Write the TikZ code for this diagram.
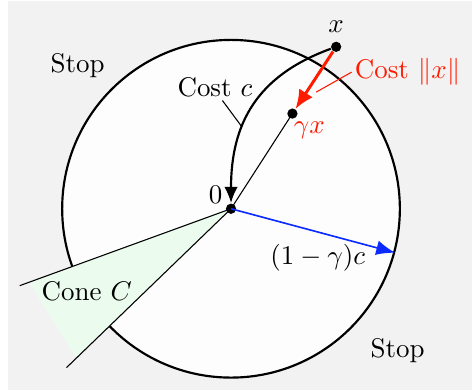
\documentclass[tikz,border=0pt]{standalone}
\usetikzlibrary{positioning,arrows.meta}
\definecolor{StopGray}{HTML}{F2F2F2}
\definecolor{BallWhite}{HTML}{FDFDFD}
\definecolor{ConeMint}{HTML}{EBFCEF}
\definecolor{CostRed}{HTML}{FF1A00}
\definecolor{RadiusBlue}{HTML}{0A2AFF}

\begin{document}
\begin{tikzpicture}[
  dot/.style={circle,fill=black,inner sep=0pt,minimum size=3.8pt},
  lbl/.style={inner sep=1pt},
  costarr/.style={-{Latex[length=6pt,width=5pt]},thick},
  redarr/.style={-{Latex[length=7pt,width=6pt]},line width=1.1pt,draw=CostRed},
  bluearr/.style={-{Latex[length=7pt,width=5.5pt]},semithick,draw=RadiusBlue},
  leader/.style={thin}
]
  \useasboundingbox (-3.01,-2.36) rectangle (3.14,2.72);
  \fill[StopGray] (-2.90,-2.36) rectangle (3.14,2.71);
  \node[circle,draw,thick,fill=BallWhite,minimum size=4.4cm,inner sep=0pt] (ball) at (0,0) {};
  % the cone
  \coordinate (o) at (0,0);
  \coordinate (coneA) at (200:2.93);
  \coordinate (coneB) at (224:2.98);
  \fill[ConeMint] (o) -- (200:2.8) -- (224:2.8) -- cycle;
  \draw[thin] (coneA) -- (o) -- (coneB);
  % points
  \node[dot] (zero) at (0,0) {};
  \node[dot] (x) at (1.37,2.11) {};
  \node[dot] (gx) at (0.80,1.24) {};
  \draw[thin] (zero.center) -- (gx.center);
  \draw[costarr] (x) to[out=200,in=90,looseness=1.1] (zero);
  \draw[redarr] (x) -- (gx);
  \draw[bluearr] (zero.center) -- (ball.-15);
  % labels
  \node[lbl,above=2pt of x] (xlabel) {$x$};
  \node[lbl,text=CostRed] (gxlabel) at (1.02,1.02) {$\gamma x$};
  \node[lbl,text=CostRed] (costx) at (2.30,1.78) {Cost $\|x\|$};
  \coordinate (redtip) at (1.11,1.52);
  \draw[leader,CostRed] (costx.west) -- (redtip);
  \node[lbl] (costc) at (-0.21,1.58) {Cost $c$};
  \coordinate (ctip) at (0.14,1.07);
  \draw[leader] (costc.-60) -- (ctip);
  \node[lbl] (zlabel) at (-0.20,0.18) {$0$};
  \node[lbl] (radlabel) at (1.13,-0.64) {$(1-\gamma)c$};
  \node[lbl] (conelabel) at (-1.88,-1.08) {Cone $C$};
  \node[lbl] (stopA) at (-2.0,1.86) {Stop};
  \node[lbl] (stopB) at (2.17,-1.85) {Stop};
\end{tikzpicture}
\end{document}
